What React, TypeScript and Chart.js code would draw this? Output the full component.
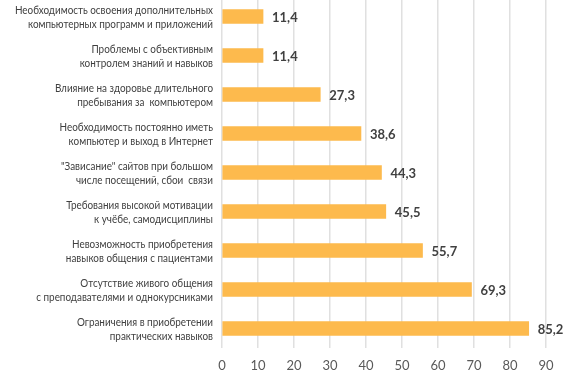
import React, { useEffect, useRef } from "react";
import { Chart, registerables } from "chart.js";

Chart.register(...registerables);

const categories: string[][] = [
  ["Необходимость освоения дополнительных", "компьютерных программ и приложений"],
  ["Проблемы с объективным", "контролем знаний и навыков"],
  ["Влияние на здоровье длительного", "пребывания за  компьютером"],
  ["Необходимость постоянно иметь", "компьютер и выход в Интернет"],
  ["\"Зависание\" сайтов при большом", "числе посещений, сбои  связи"],
  ["Требования высокой мотивации", "к учёбе, самодисциплины"],
  ["Невозможность приобретения", "навыков общения с пациентами"],
  ["Отсутствие живого общения", "с преподавателями и однокурсниками"],
  ["Ограничения в приобретении", "практических навыков"],
];
const values: number[] = [11.4, 11.4, 27.3, 38.6, 44.3, 45.5, 55.7, 69.3, 85.2];
const valueLabels: string[] = ["11,4", "11,4", "27,3", "38,6", "44,3", "45,5", "55,7", "69,3", "85,2"];

const labelsPlugin = {
  id: "customLabels",
  afterDatasetsDraw(chart: any) {
    const ctx = chart.ctx;
    const meta = chart.getDatasetMeta(0);
    ctx.save();
    ctx.font = "bold 13px Lato, 'Open Sans', sans-serif";
    ctx.fillStyle = "#404040";
    ctx.textAlign = "left";
    ctx.textBaseline = "middle";
    meta.data.forEach((bar: any, i: number) => {
      ctx.fillText(valueLabels[i], bar.x + 9, bar.y + 1);
    });
    ctx.restore();

    const yScale = chart.scales.y;
    ctx.save();
    ctx.font = "11px Lato, 'Open Sans', sans-serif";
    ctx.fillStyle = "#404040";
    ctx.textAlign = "right";
    ctx.textBaseline = "middle";
    categories.forEach((lines, i) => {
      const y = yScale.getPixelForTick(i);
      lines.forEach((line, j) => {
        ctx.save();
        ctx.translate(213, y + 1 + (j - (lines.length - 1) / 2) * 14);
        ctx.scale(0.9, 1);
        ctx.fillText(line, 0, 0);
        ctx.restore();
      });
    });
    ctx.restore();
  },
};

export default function App() {
  const ref = useRef<HTMLCanvasElement | null>(null);
  useEffect(() => {
    if (!ref.current) return;
    const chart = new Chart(ref.current, {
      type: "bar",
      data: {
        labels: categories,
        datasets: [
          {
            data: values,
            backgroundColor: "#FDBA4D",
            barThickness: 14,
          },
        ],
      },
      options: {
        indexAxis: "y",
        animation: false,
        responsive: false,
        maintainAspectRatio: false,
        layout: { padding: { top: 0, right: 39, bottom: 4, left: 0 } },
        plugins: { legend: { display: false }, tooltip: { enabled: false } },
        scales: {
          x: {
            min: 0,
            max: 90,
            afterFit(scale: any) {
              scale.paddingLeft = 0;
              scale.paddingRight = 0;
              scale.paddingTop = 0;
              scale.paddingBottom = 0;
              scale.height = 26;
            },
            ticks: {
              stepSize: 10,
              color: "#595959",
              font: { family: "Lato, 'Open Sans', sans-serif", size: 13 },
              padding: 10,
            },
            grid: { color: "#e0e0e0", lineWidth: 1.5, drawTicks: false },
            border: { display: false },
          },
          y: {
            afterFit(scale: any) {
              scale.width = 222;
              scale.paddingTop = 0;
              scale.paddingBottom = 0;
            },
            ticks: { display: false },
            grid: { display: false, drawTicks: false },
            border: { display: false },
          },
        },
      },
      plugins: [labelsPlugin],
    });
    return () => chart.destroy();
  }, []);
  return (
    <div style={{ position: "fixed", left: 0, top: -3, width: 585, height: 381, background: "#fff" }}>
      <canvas ref={ref} width={585} height={381} style={{ display: "block" }} />
    </div>
  );
}
